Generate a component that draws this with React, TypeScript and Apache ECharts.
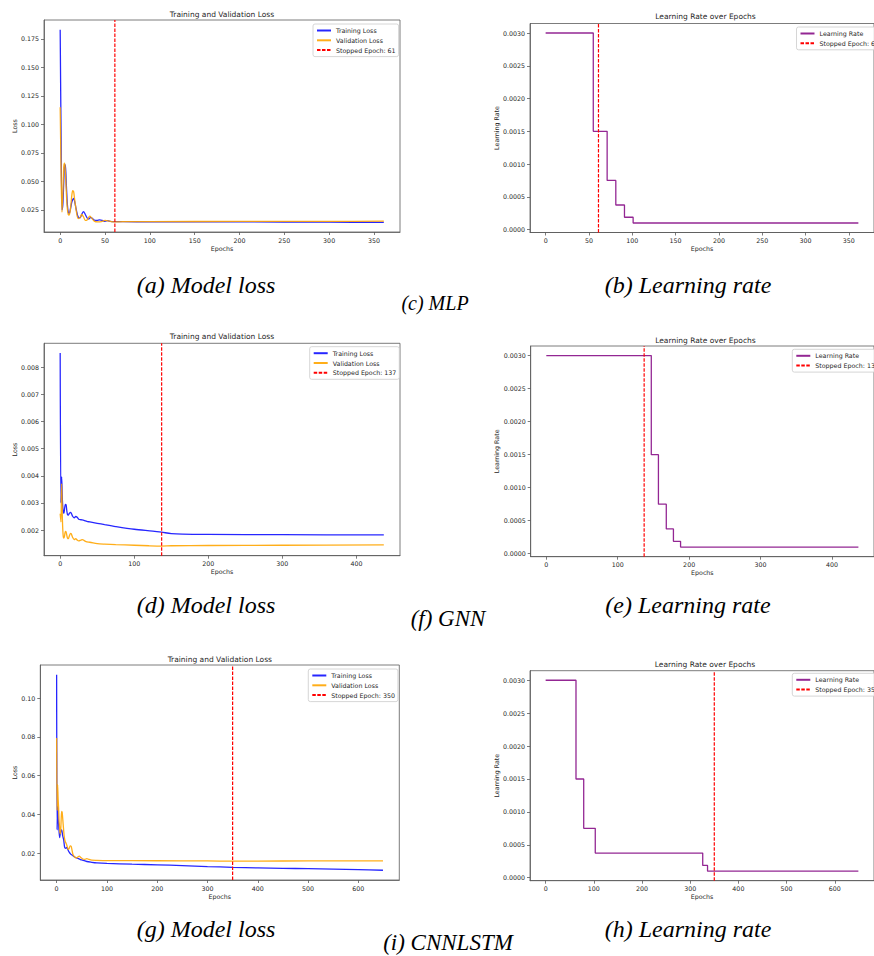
import React, { useEffect, useRef } from "react";
import * as echarts from "echarts";

// ---------- DATA ----------
type P = [number, number];

const mlpTrain: P[] = [
  [0, 0.183], [1, 0.09], [2, 0.025], [3, 0.03], [4, 0.05], [5, 0.065], [6, 0.062], [7, 0.045],
  [8, 0.03], [9, 0.023], [10, 0.022], [11, 0.024], [12, 0.028], [13, 0.032], [15, 0.035], [16, 0.033],
  [18, 0.025], [20, 0.019], [22, 0.018], [24, 0.021], [26, 0.0235], [28, 0.021], [30, 0.018], [32, 0.017],
  [34, 0.0185], [36, 0.0175], [38, 0.016], [41, 0.0158], [44, 0.0163], [47, 0.0158], [50, 0.015],
  [53, 0.0156], [56, 0.015], [60, 0.0148], [70, 0.0147], [100, 0.0146], [200, 0.0145], [300, 0.0143], [361, 0.0141],
];
const mlpVal: P[] = [
  [0, 0.115], [1, 0.06], [2, 0.023], [3, 0.04], [4, 0.063], [5, 0.066], [6, 0.055], [7, 0.038],
  [8, 0.026], [9, 0.021], [10, 0.0205], [11, 0.023], [12, 0.03], [13, 0.038], [14, 0.042], [15, 0.041],
  [16, 0.035], [18, 0.024], [20, 0.0175], [22, 0.018], [24, 0.021], [26, 0.019], [28, 0.0158], [30, 0.0162],
  [33, 0.0195], [35, 0.018], [38, 0.0152], [42, 0.0145], [46, 0.0148], [50, 0.0158], [53, 0.0155],
  [57, 0.0148], [60, 0.0145], [70, 0.0147], [100, 0.0148], [200, 0.0149], [300, 0.015], [361, 0.0151],
];
const gnnTrain: P[] = [
  [0, 0.00853], [1, 0.003], [2, 0.00396], [3, 0.0031], [4, 0.0027], [5, 0.00262], [6, 0.0028], [7, 0.00295],
  [8, 0.00293], [9, 0.0027], [10, 0.00256], [11, 0.00255], [12, 0.0026], [14, 0.00265], [15, 0.00262],
  [17, 0.0025], [19, 0.00245], [21, 0.0025], [23, 0.00247], [25, 0.0024], [28, 0.00238], [32, 0.00236],
  [36, 0.00232], [40, 0.0023], [50, 0.00225], [60, 0.0022], [75, 0.00213], [100, 0.00203], [125, 0.00196],
  [137, 0.00192], [150, 0.00187], [165, 0.00185], [200, 0.00184], [300, 0.00183], [437, 0.00182],
];
const gnnVal: P[] = [
  [0, 0.0026], [1, 0.0023], [2, 0.0037], [3, 0.0024], [4, 0.0018], [5, 0.0017], [6, 0.0018], [7, 0.00195],
  [8, 0.00193], [9, 0.0018], [10, 0.0017], [11, 0.00168], [12, 0.00175], [14, 0.00188], [15, 0.00186],
  [17, 0.00172], [19, 0.00165], [21, 0.00168], [23, 0.00163], [25, 0.0016], [28, 0.00163], [30, 0.00165],
  [33, 0.0016], [36, 0.00156], [40, 0.00155], [50, 0.0015], [60, 0.00148], [75, 0.00146], [100, 0.00144],
  [120, 0.00142], [137, 0.00141], [150, 0.00142], [200, 0.00143], [300, 0.00144], [437, 0.00145],
];
const cnnTrain: P[] = [
  [0, 0.112], [1, 0.032], [2, 0.044], [3, 0.038], [4, 0.035], [6, 0.028], [8, 0.031], [10, 0.032],
  [12, 0.029], [14, 0.027], [16, 0.023], [18, 0.0225], [20, 0.023], [22, 0.022], [25, 0.0205], [28, 0.0195],
  [32, 0.0188], [36, 0.018], [40, 0.0175], [45, 0.017], [50, 0.0165], [60, 0.0157], [70, 0.0153], [80, 0.015],
  [100, 0.0147], [150, 0.0143], [200, 0.014], [250, 0.0136], [300, 0.0131], [350, 0.0127], [400, 0.0124],
  [450, 0.0122], [500, 0.012], [550, 0.0118], [600, 0.0115], [649, 0.0112],
];
const cnnVal: P[] = [
  [0, 0.0794], [1, 0.042], [2, 0.0553], [3, 0.048], [4, 0.043], [5, 0.036], [6, 0.033], [7, 0.03],
  [8, 0.031], [9, 0.037], [10, 0.0415], [11, 0.041], [13, 0.035], [15, 0.029], [17, 0.026], [19, 0.025],
  [21, 0.0235], [23, 0.022], [25, 0.0225], [27, 0.0238], [29, 0.0235], [31, 0.021], [33, 0.019], [36, 0.018],
  [39, 0.0175], [42, 0.018], [45, 0.0185], [48, 0.0178], [52, 0.017], [56, 0.0168], [60, 0.0172], [64, 0.0168],
  [70, 0.0164], [80, 0.0163], [100, 0.0162], [200, 0.0161], [300, 0.016], [350, 0.0159], [400, 0.0159],
  [500, 0.016], [649, 0.016],
];

// learning-rate schedules: epoch at which each rate starts
const lrValues = [0.003, 0.0015, 0.00075, 0.000375, 0.0001875, 0.0001, 0.0001];
const lrMlpEpochs = [0, 55, 71, 81, 91, 101, 361];
const lrGnnEpochs = [0, 147, 157, 168, 178, 188, 437];
const lrCnnEpochs = [0, 63, 79, 103, 326, 336, 649];

const stoppedMlp = 61;
const stoppedGnn = 137;
const stoppedCnn = 350;

// tick labels
const xTicksMlp = [0, 50, 100, 150, 200, 250, 300, 350];
const xTicksGnn = [0, 100, 200, 300, 400];
const xTicksCnn = [0, 100, 200, 300, 400, 500, 600];
const yTicksMlpLoss = [0.025, 0.05, 0.075, 0.1, 0.125, 0.15, 0.175];
const yTicksGnnLoss = [0.002, 0.003, 0.004, 0.005, 0.006, 0.007, 0.008];
const yTicksCnnLoss = [0.02, 0.04, 0.06, 0.08, 0.1];
const yTicksLr = [0, 0.0005, 0.001, 0.0015, 0.002, 0.0025, 0.003];

const lossTitle = "Training and Validation Loss";
const lrTitle = "Learning Rate over Epochs";
const captions = [
  "(a) Model loss", "(c) MLP", "(b) Learning rate",
  "(d) Model loss", "(f) GNN", "(e) Learning rate",
  "(g) Model loss", "(i) CNNLSTM", "(h) Learning rate",
];

// ---------- LAYOUT ----------
const layout = [
  { left: 44, top: 20, width: 356, height: 212, titleY: 14, yNameGap: 24, legendLeft: 313, legendTop: 24 },
  { left: 530, top: 23.5, width: 351, height: 209, titleY: 16.5, yNameGap: 28, legendLeft: 796.5, legendTop: 27 },
  { left: 44, top: 343.3, width: 356, height: 212.4, titleY: 336.5, yNameGap: 24, legendLeft: 309.7, legendTop: 346.7 },
  { left: 530.7, top: 346, width: 349.5, height: 210.7, titleY: 340, yNameGap: 28, legendLeft: 792.3, legendTop: 349.3 },
  { left: 40.3, top: 665, width: 359, height: 215, titleY: 659, yNameGap: 20, legendLeft: 308.3, legendTop: 669 },
  { left: 530, top: 670.7, width: 350, height: 210, titleY: 664, yNameGap: 28, legendLeft: 792.3, legendTop: 673.3 },
];
const captionPos = [
  [206, 284.5, 24], [435, 303, 20], [688, 284.5, 24],
  [206, 605, 24], [448, 618, 23], [688, 605, 24],
  [206, 929, 24], [448, 942, 23], [688, 929, 24],
];

const FONT = "DejaVu Sans";
const TXT = "#262626";
const FRAME = "#5a5a5a";

function pad(lo: number, hi: number): [number, number] {
  const r = hi - lo;
  return [lo - 0.05 * r, hi + 0.05 * r];
}

export default function App() {
  const ref = useRef<HTMLDivElement>(null);
  useEffect(() => {
    if (!ref.current) return;
    const chart = echarts.init(ref.current, undefined, { renderer: "svg" });

    const lossSets = [
      { train: mlpTrain, val: mlpVal, stop: stoppedMlp, xt: xTicksMlp, yt: yTicksMlpLoss, dec: 3 },
      { train: gnnTrain, val: gnnVal, stop: stoppedGnn, xt: xTicksGnn, yt: yTicksGnnLoss, dec: 3 },
      { train: cnnTrain, val: cnnVal, stop: stoppedCnn, xt: xTicksCnn, yt: yTicksCnnLoss, dec: 2 },
    ];
    const lrSets = [
      { ep: lrMlpEpochs, stop: stoppedMlp, xt: xTicksMlp },
      { ep: lrGnnEpochs, stop: stoppedGnn, xt: xTicksGnn },
      { ep: lrCnnEpochs, stop: stoppedCnn, xt: xTicksCnn },
    ];

    const grids: any[] = [];
    const xAxes: any[] = [];
    const yAxes: any[] = [];
    const series: any[] = [];
    const legends: any[] = [];
    const graphics: any[] = [];

    const tickStyle = { show: true, length: 3, lineStyle: { color: FRAME, width: 0.8 } };
    const labelBase = { fontSize: 6.3, fontFamily: FONT, color: TXT };

    const addAxes = (i: number, xr: [number, number], yr: [number, number], xt: number[], yt: number[], dec: number, yName: string) => {
      const L = layout[i];
      grids.push({ left: L.left, top: L.top, width: L.width, height: L.height, show: true, borderColor: FRAME, borderWidth: 0.8, backgroundColor: "transparent" });
      xAxes.push({
        type: "value", gridIndex: i, min: xr[0], max: xr[1],
        axisLine: { show: true, onZero: false, lineStyle: { color: FRAME, width: 0.8 } },
        axisTick: { ...tickStyle, customValues: xt },
        axisLabel: { ...labelBase, margin: 5, customValues: xt, formatter: (v: number) => String(Math.round(v)) },
        splitLine: { show: false },
        name: "Epochs", nameLocation: "middle", nameGap: 13, nameTextStyle: { ...labelBase },
      });
      yAxes.push({
        type: "value", gridIndex: i, min: yr[0], max: yr[1],
        axisLine: { show: true, onZero: false, lineStyle: { color: FRAME, width: 0.8 } },
        axisTick: { ...tickStyle, customValues: yt },
        axisLabel: { ...labelBase, margin: 5, customValues: yt, formatter: (v: number) => v.toFixed(dec) },
        splitLine: { show: false },
        name: yName, nameLocation: "middle", nameGap: L.yNameGap, nameTextStyle: { ...labelBase },
      });
    };

    const legendBase = {
      orient: "vertical", itemWidth: 14, itemHeight: 6, itemGap: 1.8, padding: [2.5, 3, 2.5, 3],
      borderColor: "#cccccc", borderWidth: 0.8, borderRadius: 2, backgroundColor: "rgba(255,255,255,0.8)",
      itemStyle: { opacity: 0 },
      textStyle: { fontSize: 6.3, fontFamily: FONT, color: TXT, lineHeight: 8 }, selectedMode: false,
    };

    for (let k = 0; k < 3; k++) {
      // loss panel
      const li = k * 2;
      const s = lossSets[k];
      const all = s.train.concat(s.val);
      const xN = s.train[s.train.length - 1][0];
      const xr = pad(0, xN);
      const yr = pad(Math.min(...all.map((p) => p[1])), Math.max(...all.map((p) => p[1])));
      addAxes(li, xr, yr, s.xt, s.yt, s.dec, "Loss");
      const stopName = `Stopped Epoch: ${s.stop}`;
      series.push(
        { type: "line", name: "Training Loss", xAxisIndex: li, yAxisIndex: li, data: s.train, symbol: "none", smooth: 0.3,
          lineStyle: { color: "#0000ff", width: 1.3, opacity: 0.85 }, itemStyle: { color: "#0000ff" } },
        { type: "line", name: "Validation Loss", xAxisIndex: li, yAxisIndex: li, data: s.val, symbol: "none", smooth: 0.3,
          lineStyle: { color: "#ffa500", width: 1.3, opacity: 0.9 }, itemStyle: { color: "#ffa500" } },
        { type: "line", name: stopName, xAxisIndex: li, yAxisIndex: li, data: [[s.stop, yr[0]], [s.stop, yr[1]]], symbol: "none",
          lineStyle: { color: "#ff0000", width: 1.2, type: [3.5, 1.5] }, itemStyle: { color: "#ff0000" } },
      );
      legends.push({ ...legendBase, left: layout[li].legendLeft, top: layout[li].legendTop, data: ["Training Loss", "Validation Loss", stopName] });
      graphics.push({ type: "text", x: layout[li].left + layout[li].width / 2, y: layout[li].titleY,
        style: { text: lossTitle, fontSize: 7.5, fontFamily: FONT, fill: TXT, align: "center", verticalAlign: "middle" } });

      // lr panel
      const ri = k * 2 + 1;
      const r = lrSets[k];
      const rxr = pad(0, r.ep[r.ep.length - 1]);
      const ryr = pad(Math.min(...lrValues), Math.max(...lrValues));
      addAxes(ri, rxr, ryr, r.xt, yTicksLr, 4, "Learning Rate");
      const rStop = `Stopped Epoch: ${r.stop}`;
      series.push(
        { type: "line", name: "Learning Rate", xAxisIndex: ri, yAxisIndex: ri, step: "end", symbol: "none",
          data: r.ep.map((e, j) => [e, lrValues[j]]),
          lineStyle: { color: "#800080", width: 1.3, opacity: 0.85 }, itemStyle: { color: "#800080" } },
        { type: "line", name: rStop, xAxisIndex: ri, yAxisIndex: ri, data: [[r.stop, ryr[0]], [r.stop, ryr[1]]], symbol: "none",
          lineStyle: { color: "#ff0000", width: 1.2, type: [3.5, 1.5] }, itemStyle: { color: "#ff0000" } },
      );
      legends.push({ ...legendBase, left: layout[ri].legendLeft, top: layout[ri].legendTop, data: ["Learning Rate", rStop] });
      graphics.push({ type: "text", x: layout[ri].left + layout[ri].width / 2, y: layout[ri].titleY,
        style: { text: lrTitle, fontSize: 7.5, fontFamily: FONT, fill: TXT, align: "center", verticalAlign: "middle" } });
    }

    captions.forEach((c, i) => {
      graphics.push({ type: "text", x: captionPos[i][0], y: captionPos[i][1],
        style: { text: c, fontSize: captionPos[i][2], fontStyle: "italic", fontFamily: "Liberation Serif", fill: "#000", align: "center", verticalAlign: "middle" } });
    });

    chart.setOption({
      animation: false,
      backgroundColor: "#ffffff",
      textStyle: { fontFamily: FONT },
      grid: grids,
      xAxis: xAxes,
      yAxis: yAxes,
      legend: legends,
      series,
      graphic: graphics,
    });
    return () => chart.dispose();
  }, []);
  return <div ref={ref} style={{ position: "absolute", left: 0, top: 0, width: 874, height: 956 }} />;
}
